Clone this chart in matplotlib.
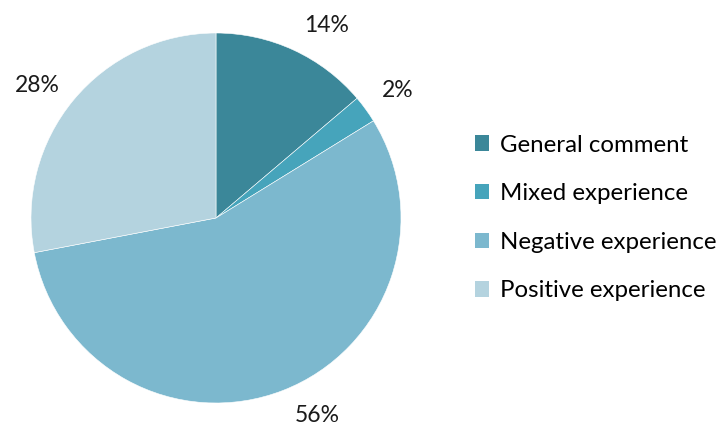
import matplotlib
matplotlib.use("Agg")
import matplotlib.pyplot as plt
from matplotlib.patches import Patch
import numpy as np

categories = ["General comment", "Mixed experience", "Negative experience", "Positive experience"]
values = [13.8, 2.4, 55.8, 28.0]
colors = ["#3B8799", "#46A4BB", "#7CB8CE", "#B4D3DF"]
# small angular nudges (degrees) for label placement, mimicking the original
label_nudge = [-5, -1, 6, 3]

plt.rcParams['font.family'] = ['Lato', 'DejaVu Sans']

fig = plt.figure(figsize=(7.2, 4.29), dpi=100)
ax = fig.add_axes([216/720 - 185/720, (429-218)/429 - 185/429, 370/720, 370/429])
wedges, texts, autotexts = ax.pie(values, colors=colors, startangle=90, counterclock=False,
                                  autopct=lambda p: f"{p:.0f}%", pctdistance=1.2,
                                  wedgeprops=dict(edgecolor="white", linewidth=0.4),
                                  textprops=dict(fontsize=16.5, color="#1a1a1a"))
for w, t, nd in zip(wedges, autotexts, label_nudge):
    ang = np.deg2rad((w.theta1 + w.theta2) / 2 + nd)
    t.set_position((1.2 * np.cos(ang), 1.2 * np.sin(ang)))
ax.set_xlim(-1, 1)
ax.set_ylim(-1, 1)
ax.set_aspect('equal')
ax.axis('off')

handles = [Patch(facecolor=c, edgecolor='none') for c in colors]
fig.legend(handles, categories, loc='center left', bbox_to_anchor=(475/720, (429-218)/429),
           frameon=False, fontsize=17.3, handlelength=0.6, handleheight=0.6,
           handletextpad=0.42, labelspacing=1.15, borderpad=0, borderaxespad=0)

fig.savefig("out.png", dpi=100)
